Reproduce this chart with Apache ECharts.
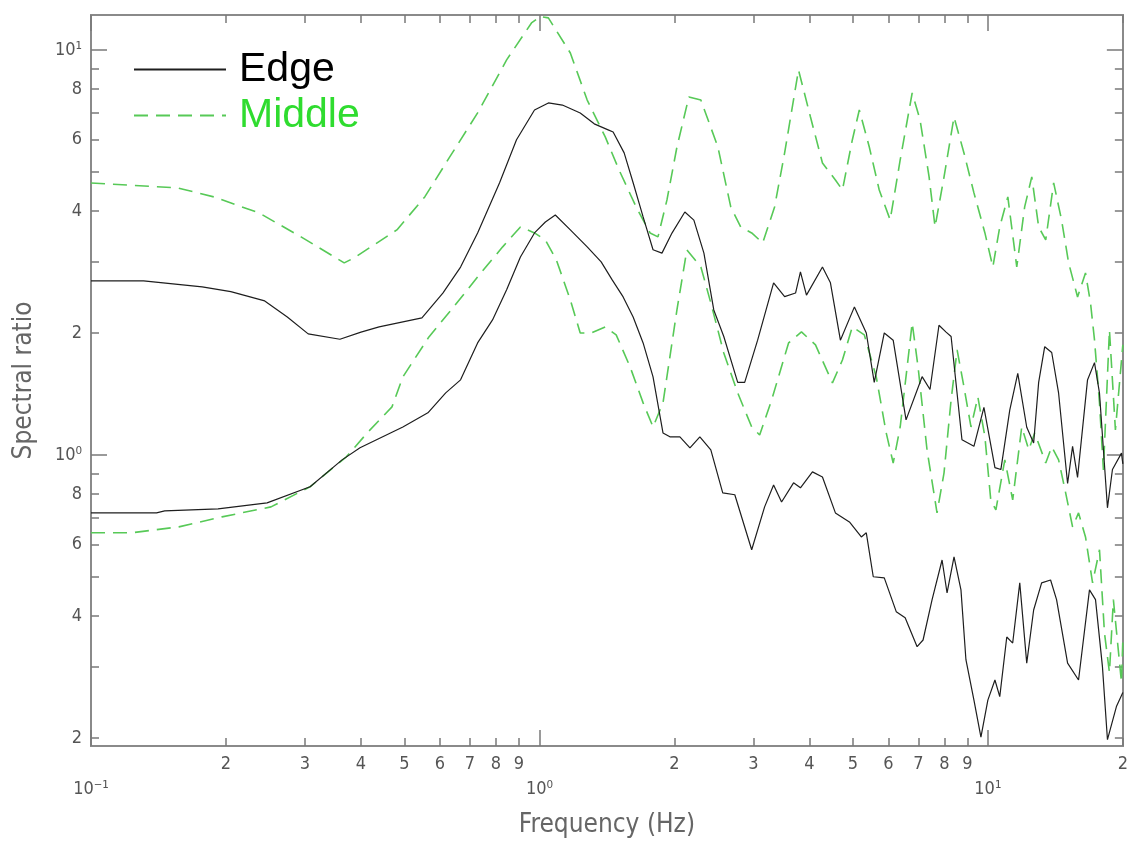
<!DOCTYPE html>
<html>
<head>
<meta charset="utf-8">
<title>Spectral ratio</title>
<script src="https://cdn.jsdelivr.net/npm/echarts@6/dist/echarts.min.js"></script>
<style>
  html, body { margin: 0; padding: 0; background: #fff; }
  #main { width: 1131px; height: 853px; }
</style>
</head>
<body>
<div id="main"></div>
<script>
// values as [frequency (Hz), spectral ratio]
var edgeUpper = [[0.1,2.69],[0.131,2.69],[0.177,2.60],[0.205,2.53],[0.244,2.40],[0.274,2.19],[0.305,1.99],[0.359,1.93],[0.4,2.01],[0.439,2.07],[0.547,2.18],[0.609,2.51],[0.667,2.91],[0.728,3.53],[0.815,4.70],[0.889,6.00],[0.975,7.11],[1.047,7.40],[1.125,7.31],[1.233,6.99],[1.325,6.57],[1.423,6.35],[1.46,6.27],[1.545,5.57],[1.618,4.70],[1.703,3.87],[1.792,3.21],[1.876,3.15],[1.975,3.53],[2.11,3.98],[2.21,3.80],[2.327,3.15],[2.448,2.28],[2.577,1.96],[2.768,1.51],[2.869,1.51],[3.066,1.92],[3.328,2.66],[3.522,2.46],[3.725,2.51],[3.82,2.83],[3.94,2.48],[4.277,2.91],[4.456,2.66],[4.69,1.92],[5.04,2.32],[5.357,2.00],[5.58,1.51],[5.875,2.00],[6.15,1.92],[6.57,1.22],[7.135,1.56],[7.43,1.45],[7.78,2.09],[8.07,2.01],[8.28,1.96],[8.755,1.09],[9.31,1.05],[9.8,1.31],[10.37,0.93],[10.69,0.92],[11.19,1.29],[11.66,1.59],[12.21,1.17],[12.65,1.07],[12.98,1.51],[13.39,1.85],[13.88,1.79],[14.38,1.42],[15.06,0.85],[15.45,1.05],[15.85,0.88],[16.68,1.53],[17.29,1.69],[17.74,1.42],[18.48,0.74],[18.96,0.92],[19.86,1.01],[20,0.95]];

var edgeLower = [[0.1,0.719],[0.140,0.719],[0.146,0.727],[0.192,0.736],[0.247,0.761],[0.308,0.834],[0.363,0.972],[0.398,1.041],[0.496,1.172],[0.564,1.27],[0.618,1.423],[0.667,1.532],[0.728,1.89],[0.786,2.154],[0.845,2.556],[0.907,3.082],[0.975,3.533],[1.031,3.76],[1.085,3.913],[1.172,3.594],[1.278,3.264],[1.373,2.996],[1.453,2.705],[1.537,2.455],[1.618,2.19],[1.703,1.89],[1.792,1.558],[1.886,1.133],[1.954,1.108],[2.057,1.108],[2.166,1.041],[2.279,1.108],[2.411,1.029],[2.563,0.806],[2.727,0.797],[2.974,0.583],[3.178,0.744],[3.328,0.843],[3.467,0.765],[3.687,0.853],[3.82,0.829],[4.063,0.908],[4.277,0.882],[4.571,0.719],[4.912,0.683],[5.222,0.627],[5.357,0.642],[5.552,0.5],[5.875,0.497],[6.247,0.41],[6.54,0.396],[6.954,0.336],[7.17,0.349],[7.51,0.439],[7.905,0.55],[8.11,0.456],[8.405,0.56],[8.71,0.464],[8.935,0.312],[9.31,0.248],[9.65,0.201],[10.0,0.248],[10.37,0.278],[10.63,0.253],[11.02,0.355],[11.36,0.343],[11.78,0.483],[12.21,0.306],[12.65,0.414],[13.18,0.483],[13.8,0.491],[14.23,0.439],[15.06,0.306],[15.93,0.278],[16.85,0.464],[17.38,0.439],[18.01,0.3],[18.48,0.198],[19.35,0.239],[20,0.259]];

var middleUpper = [[0.1,4.695],[0.156,4.564],[0.188,4.336],[0.237,3.958],[0.294,3.454],[0.367,2.98],[0.386,3.065],[0.481,3.594],[0.555,4.336],[0.631,5.443],[0.728,6.99],[0.845,9.45],[0.96,11.66],[1.005,12.1],[1.047,12.0],[1.172,9.83],[1.278,7.52],[1.402,6.10],[1.505,5.054],[1.643,4.096],[1.765,3.533],[1.838,3.454],[1.925,4.263],[2.026,5.76],[2.154,7.655],[2.291,7.52],[2.5,5.76],[2.671,4.096],[2.811,3.656],[2.974,3.533],[3.147,3.338],[3.345,4.096],[3.522,5.568],[3.782,8.925],[4.022,6.83],[4.277,5.26],[4.571,4.775],[4.739,4.511],[4.986,5.995],[5.168,7.11],[5.44,5.76],[5.725,4.511],[6.056,3.804],[6.375,5.35],[6.78,7.83],[7.06,6.72],[7.395,4.858],[7.625,3.656],[7.985,4.858],[8.405,6.83],[8.845,5.568],[9.31,4.436],[9.85,3.533],[10.26,2.912],[10.63,3.656],[11.08,4.336],[11.6,2.912],[12.08,4.096],[12.53,4.858],[12.98,3.656],[13.46,3.395],[14.02,4.695],[14.6,3.804],[15.14,2.98],[15.85,2.455],[16.51,2.814],[16.94,2.373],[17.29,1.923],[17.74,1.344],[18.1,0.918],[18.67,2.035],[19.25,1.153],[20,1.869]];

var middleLower = [[0.1,0.642],[0.123,0.642],[0.157,0.664],[0.196,0.703],[0.252,0.744],[0.308,0.834],[0.371,0.989],[0.413,1.133],[0.469,1.314],[0.496,1.558],[0.567,1.956],[0.644,2.32],[0.728,2.752],[0.828,3.264],[0.907,3.656],[0.975,3.533],[1.031,3.395],[1.091,3.03],[1.172,2.414],[1.233,2.0],[1.305,2.0],[1.402,2.07],[1.483,1.979],[1.593,1.649],[1.703,1.344],[1.792,1.172],[1.886,1.344],[2.026,2.28],[2.132,3.21],[2.291,2.912],[2.411,2.373],[2.577,1.786],[2.768,1.423],[2.974,1.172],[3.098,1.12],[3.295,1.367],[3.594,1.89],[3.84,2.012],[4.127,1.869],[4.502,1.506],[4.739,1.715],[4.986,2.07],[5.302,1.979],[5.638,1.558],[5.934,1.133],[6.15,0.955],[6.375,1.172],[6.607,1.649],[6.78,2.118],[6.988,1.649],[7.317,1.029],[7.703,0.719],[7.985,0.903],[8.28,1.367],[8.54,1.816],[8.845,1.472],[9.17,1.172],[9.5,1.39],[9.85,1.108],[10.15,0.774],[10.42,0.731],[10.91,0.972],[11.36,0.774],[11.9,1.172],[12.34,1.029],[12.72,1.133],[13.46,0.955],[13.88,1.047],[14.38,0.972],[14.91,0.806],[15.45,0.664],[15.93,0.719],[16.51,0.627],[17.12,0.483],[17.74,0.583],[18.2,0.363],[18.67,0.29],[19.05,0.439],[19.86,0.274],[20,0.349]];

// axis ranges and tick positions (real units)
var xRange = [0.1, 20];
var yRange = [0.191, 12.2];
var xMajorTicks = [0.1, 1, 10];
var xMinorTicks = [0.2, 0.3, 0.4, 0.5, 0.6, 0.7, 0.8, 0.9, 2, 3, 4, 5, 6, 7, 8, 9, 20];
var xLabelValues = [0.1, 0.2, 0.3, 0.4, 0.5, 0.6, 0.7, 0.8, 0.9, 1, 2, 3, 4, 5, 6, 7, 8, 9, 10, 20];
var yMajorTicks = [1, 10];
var yMinorTicks = [0.2, 0.3, 0.4, 0.5, 0.6, 0.7, 0.8, 0.9, 2, 3, 4, 5, 6, 7, 8, 9];
var yLabelValues = [0.2, 0.4, 0.6, 0.8, 1, 2, 4, 6, 8, 10];

// both axes are logarithmic: work in log10 units
function lg(v) { return Math.log10(v); }
function toLog(pts) { return pts.map(function (p) { return [lg(p[0]), lg(p[1])]; }); }

var SUP = { '-': '\u207B', '0': '\u2070', '1': '\u00B9', '2': '\u00B2', '3': '\u00B3' };
function tickText(v, newRow) {
  var e = Math.round(v);
  if (Math.abs(v - e) < 1e-6) {
    var s = String(e).split('').map(function (c) { return SUP[c]; }).join('');
    return (newRow ? '\n' : '') + '10' + s;
  }
  var ex = Math.floor(v + 1e-9);
  return String(Math.round(Math.pow(10, v) / Math.pow(10, ex)));
}

var axisFont = "'Liberation Sans Narrow', 'DejaVu Sans Condensed', sans-serif";
var frameLine = { show: true, onZero: false, lineStyle: { color: '#8a8a8a', width: 2 } };
var tickLine = { color: '#7a7a7a', width: 1.5 };

function xAxisDef(pos, ticks, len, withLabels) {
  var ax = {
    type: 'value', position: pos,
    min: lg(xRange[0]), max: lg(xRange[1]),
    axisLine: frameLine,
    splitLine: { show: false },
    axisTick: { show: true, inside: true, length: len, customValues: ticks.map(lg), lineStyle: tickLine },
    axisLabel: { show: false }
  };
  if (withLabels) {
    ax.axisLabel = {
      show: true, customValues: xLabelValues.map(lg),
      formatter: function (v) { return tickText(v, true); },
      color: '#555', fontSize: 18, lineHeight: 25, margin: 6, fontFamily: axisFont
    };
    ax.name = 'Frequency (Hz)';
    ax.nameLocation = 'middle';
    ax.nameGap = 66;
    ax.nameTextStyle = { color: '#666', fontSize: 26, fontFamily: axisFont };
  }
  return ax;
}

function yAxisDef(pos, ticks, len, withLabels) {
  var ax = {
    type: 'value', position: pos,
    min: lg(yRange[0]), max: lg(yRange[1]),
    axisLine: frameLine,
    splitLine: { show: false },
    axisTick: { show: true, inside: true, length: len, customValues: ticks.map(lg), lineStyle: tickLine },
    axisLabel: { show: false }
  };
  if (withLabels) {
    ax.axisLabel = {
      show: true, customValues: yLabelValues.map(lg),
      formatter: function (v) { return tickText(v, false); },
      color: '#555', fontSize: 18, margin: 9, fontFamily: axisFont
    };
    ax.name = 'Spectral ratio';
    ax.nameLocation = 'middle';
    ax.nameGap = 54;
    ax.nameTextStyle = { color: '#666', fontSize: 26, fontFamily: axisFont };
  }
  return ax;
}

var black = { color: '#1e1e1e', width: 1.2, type: 'solid' };
var green = { color: '#57c957', width: 1.6, type: [14, 8] };

function line(name, pts, style) {
  return {
    name: name, type: 'line', data: toLog(pts),
    xAxisIndex: 0, yAxisIndex: 0,
    showSymbol: false, symbol: 'none', clip: true,
    lineStyle: style, itemStyle: { color: style.color },
    emphasis: { disabled: true }
  };
}

var chart = echarts.init(document.getElementById('main'));
chart.setOption({
  animation: false,
  backgroundColor: '#fff',
  grid: { left: 91, right: 5, top: 15, bottom: 107, containLabel: false },
  legend: {
    orient: 'vertical', left: 128, top: 44,
    itemWidth: 92, itemHeight: 14, itemGap: 5,
    itemStyle: { opacity: 0 },
    textStyle: { fontSize: 41, fontFamily: "'Liberation Sans', Arial, sans-serif", padding: [0, 0, 0, 8] },
    data: [
      { name: 'Edge', textStyle: { color: '#000' } },
      { name: 'Middle', textStyle: { color: '#2fdc2f' } }
    ]
  },
  xAxis: [
    xAxisDef('bottom', xMinorTicks, 8, true),
    xAxisDef('bottom', xMajorTicks, 16, false),
    xAxisDef('top', xMinorTicks, 8, false),
    xAxisDef('top', xMajorTicks, 16, false)
  ],
  yAxis: [
    yAxisDef('left', yMinorTicks, 8, true),
    yAxisDef('left', yMajorTicks, 16, false),
    yAxisDef('right', yMinorTicks, 8, false),
    yAxisDef('right', yMajorTicks, 16, false)
  ],
  series: [
    line('Middle', middleUpper, green),
    line('Middle', middleLower, green),
    line('Edge', edgeUpper, black),
    line('Edge', edgeLower, black)
  ]
});
</script>
</body>
</html>
